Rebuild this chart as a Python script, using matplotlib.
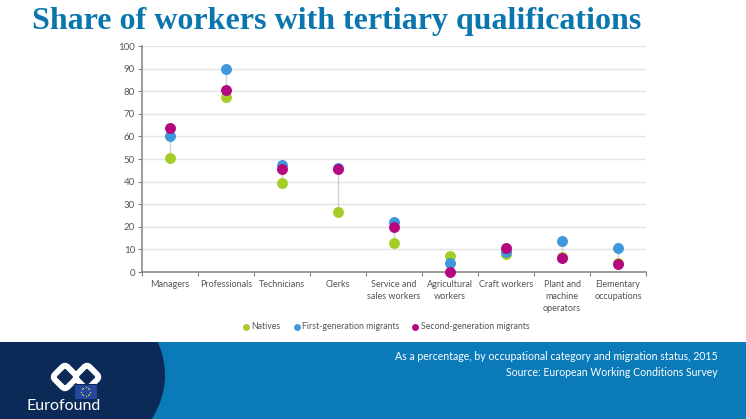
import numpy as np
import matplotlib
matplotlib.use('Agg')
import matplotlib.pyplot as plt
from matplotlib.patches import Polygon, Rectangle, FancyBboxPatch
from matplotlib.transforms import Affine2D

# Values
categories = ['Managers', 'Professionals', 'Technicians', 'Clerks', 'Service and\nsales workers',
              'Agricultural\nworkers', 'Craft workers', 'Plant and\nmachine\noperators', 'Elementary\noccupations']
natives = [50.5, 77.5, 39.5, 26.5, 13, 7, 8, 6.5, 4]
first_gen = [60, 90, 47.5, 46, 22, 4, 9, 13.5, 10.5]
second_gen = [63.5, 80.5, 45.5, 45.5, 20, 0, 10.5, 6, 3.5]

W, H = 746, 419
plt.rcParams['font.family'] = ['Lato', 'DejaVu Sans']
fig = plt.figure(figsize=(W / 100, H / 100), dpi=100)

# Background layer in pixel coordinates
bg = fig.add_axes([0, 0, 1, 1], zorder=0)
bg.set_xlim(0, W)
bg.set_ylim(H, 0)
bg.axis('off')
bg.add_patch(Rectangle((0, 342), W, 77, color='#0a7ab8', lw=0))
yy = np.linspace(342, 419, 60)
xx = 165 - 13 * ((yy - 375) / 44) ** 2
bg.add_patch(Polygon(list(zip(xx, yy)) + [(0, 419), (0, 342)], color='#0b2a57', lw=0))

# Logo: two linked diamonds
for cx in (65, 87):
    rot = Affine2D().rotate_deg_around(cx, 377, 45) + bg.transData
    bg.add_patch(FancyBboxPatch((cx - 9, 368), 18, 18, boxstyle='round,pad=0,rounding_size=4',
                                fc='none', ec='white', lw=4.2, transform=rot))
bg.add_patch(Rectangle((74, 384), 23, 15, fc='#24479b', ec='#0b2a57', lw=0.8, zorder=5))
a = np.linspace(0, 2 * np.pi, 12, endpoint=False)
bg.scatter(85.5 + 4.5 * np.cos(a), 391.5 + 4.5 * np.sin(a), s=0.8, c='#f4d84a', lw=0, zorder=6)
bg.text(63.5, 405.5, 'Eurofound', color='white', fontsize=11.5, ha='center', va='center', zorder=7)

# Title and footer text
bg.text(32, 22, 'Share of workers with tertiary qualifications', color='#0a76ad', fontsize=23,
        fontweight='bold', family='Liberation Serif', va='center', ha='left')
bg.text(718, 356, 'As a percentage, by occupational category and migration status, 2015', color='white',
        fontsize=7.6, ha='right', va='center')
bg.text(718, 372, 'Source: European Working Conditions Survey', color='white', fontsize=7.6,
        ha='right', va='center')

# Chart
ax = fig.add_axes([142 / W, 1 - 272 / H, 504 / W, 226 / H], zorder=1)
ax.patch.set_alpha(0)
x = np.arange(len(categories))
ax.vlines(x, np.minimum.reduce([natives, first_gen, second_gen]),
          np.maximum.reduce([natives, first_gen, second_gen]), color='#d0d0d0', lw=1, zorder=2)
ms = 62
ax.scatter(x, natives, s=ms, c='#a5cd28', lw=0, zorder=3, clip_on=False, label='Natives')
ax.scatter(x, first_gen, s=ms, c='#3f97dc', lw=0, zorder=4, clip_on=False, label='First-generation migrants')
ax.scatter(x, second_gen, s=ms, c='#b5077f', lw=0, zorder=5, clip_on=False, label='Second-generation migrants')

ax.set_xlim(-0.5, len(categories) - 0.5)
ax.set_ylim(0, 100)
ax.set_yticks(range(0, 101, 10))
ax.set_xticks(np.arange(-0.5, len(categories)), minor=False, labels=[])
ax.set_xticks(x, labels=categories, minor=True)
ax.tick_params(axis='x', which='major', length=3, color='#808080', width=0.8)
ax.tick_params(axis='x', which='minor', length=0, labelsize=6.5, labelcolor='#555555', pad=5.5)
ax.tick_params(axis='y', length=3, color='#808080', width=0.8, labelsize=7, labelcolor='#555555', pad=2)
for lab in ax.get_xticklabels(minor=True):
    lab.set_linespacing(1.45)
ax.grid(axis='y', color='#e4e4e4', lw=1)
ax.set_axisbelow(True)
for s in ('top', 'right'):
    ax.spines[s].set_visible(False)
for s in ('left', 'bottom'):
    ax.spines[s].set_color('#808080')
    ax.spines[s].set_linewidth(1.1)

leg = ax.legend(loc='upper center', bbox_to_anchor=(0.483, -0.186), ncol=3, frameon=False, fontsize=6.3,
                markerscale=0.63, handlelength=1, handletextpad=0.1, columnspacing=1.35, labelcolor='#555555')

fig.savefig('out.png', dpi=100)
